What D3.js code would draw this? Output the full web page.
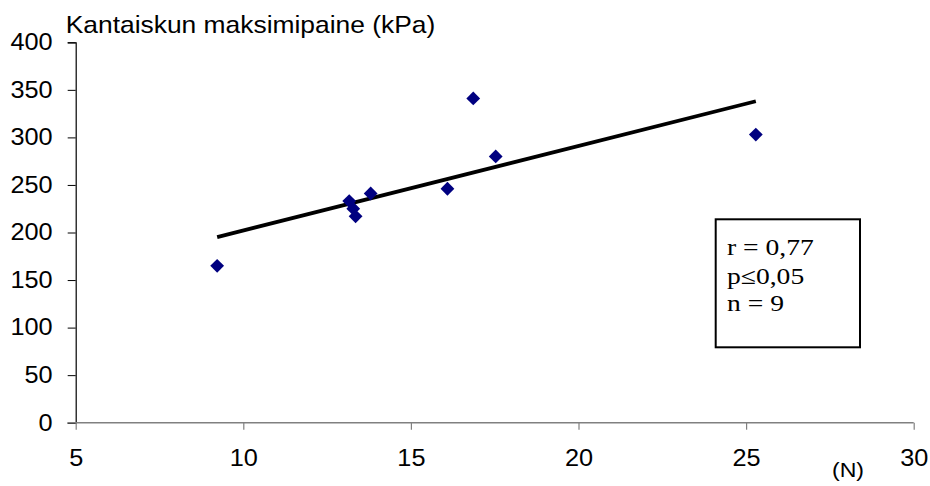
<!DOCTYPE html>
<html>
<head>
<meta charset="utf-8">
<script src="https://cdn.jsdelivr.net/npm/d3@7"></script>
<style>
  html, body { margin: 0; padding: 0; background: #fff; }
  svg { display: block; }
</style>
</head>
<body>
<svg id="chart" width="930" height="486"></svg>
<script>
// Measured force (N) and heel-strike peak pressure (kPa) per subject
const forceN = [9.22, 13.16, 13.28, 13.35, 13.80, 16.09, 16.86, 17.53, 25.29];
const pressureKPa = [165, 233, 225, 217, 241, 246, 341, 280, 303];

const xTicks = [5, 10, 15, 20, 25, 30];
const yTicks = [0, 50, 100, 150, 200, 250, 300, 350, 400];

const yTitle = "Kantaiskun maksimipaine (kPa)";
const xUnit = "(N)";
const statLines = ["r = 0,77", "p\u22640,05", "n = 9"];

const svg = d3.select("#chart");
const sans = "'Liberation Sans', Arial, sans-serif";
const serif = "'Liberation Serif', 'Times New Roman', serif";
const widen = "scale(1.1,1)"; // text is set slightly wide

const x = d3.scaleLinear().domain([5, 30]).range([75.7, 913.7]);
const y = d3.scaleLinear().domain([0, 400]).range([422.7, 42.3]);

// Y axis
const yAxis = svg.append("g")
  .attr("transform", `translate(${x(5)},0)`)
  .call(d3.axisLeft(y).tickValues(yTicks).tickSize(8).tickPadding(13));
yAxis.select(".domain").attr("stroke", "#000").attr("stroke-width", 1.2);
yAxis.selectAll(".tick line").attr("stroke", "#000");
yAxis.selectAll(".tick text")
  .attr("font-family", sans).attr("font-size", 23).attr("fill", "#000")
  .attr("transform", widen);

// X axis
const xAxis = svg.append("g")
  .attr("transform", `translate(0,${y(0)})`)
  .call(d3.axisBottom(x).tickValues(xTicks).tickSize(7).tickSizeOuter(0));
xAxis.select(".domain").attr("stroke", "#808080").attr("stroke-width", 1.5)
  .attr("d", `M${x(5) - 8},0H${x(30)}`);
xAxis.selectAll(".tick line").attr("stroke", "#808080").attr("stroke-width", 1.2);
xAxis.selectAll(".tick text")
  .attr("y", 43).attr("dy", null)
  .attr("font-family", sans).attr("font-size", 23).attr("fill", "#000")
  .attr("transform", widen);

// Axis titles
svg.append("text")
  .attr("transform", `translate(65.7,33) ${widen}`)
  .attr("font-family", sans).attr("font-size", 24)
  .text(yTitle);
svg.append("text")
  .attr("transform", `translate(848,477) ${widen}`)
  .attr("text-anchor", "middle")
  .attr("font-family", sans).attr("font-size", 21)
  .text(xUnit);

// Least-squares trend line across the observed force range
const mx = d3.mean(forceN), my = d3.mean(pressureKPa);
const sxy = d3.sum(forceN, (v, i) => (v - mx) * (pressureKPa[i] - my));
const sxx = d3.sum(forceN, v => (v - mx) ** 2);
const slope = sxy / sxx, intercept = my - slope * mx;
const [x0, x1] = d3.extent(forceN);
svg.append("line")
  .attr("x1", x(x0)).attr("y1", y(intercept + slope * x0))
  .attr("x2", x(x1)).attr("y2", y(intercept + slope * x1))
  .attr("stroke", "#000").attr("stroke-width", 3.8);

// Data points as navy diamonds
const diamond = d3.symbol().type(d3.symbolSquare).size(95);
svg.append("g").selectAll("path")
  .data(forceN.map((v, i) => [v, pressureKPa[i]]))
  .join("path")
  .attr("d", diamond)
  .attr("transform", d => `translate(${x(d[0])},${y(d[1])}) rotate(45)`)
  .attr("fill", "#000080");

// Statistics box
svg.append("rect")
  .attr("x", 715.7).attr("y", 219.3).attr("width", 144.3).attr("height", 128)
  .attr("fill", "#fff").attr("stroke", "#000").attr("stroke-width", 2);
const statY = [255, 284, 311];
svg.append("g").selectAll("text")
  .data(statLines)
  .join("text")
  .attr("transform", (d, i) => `translate(727,${statY[i]}) scale(1.2,1)`)
  .attr("font-family", serif).attr("font-size", 23)
  .text(d => d);
</script>
</body>
</html>
